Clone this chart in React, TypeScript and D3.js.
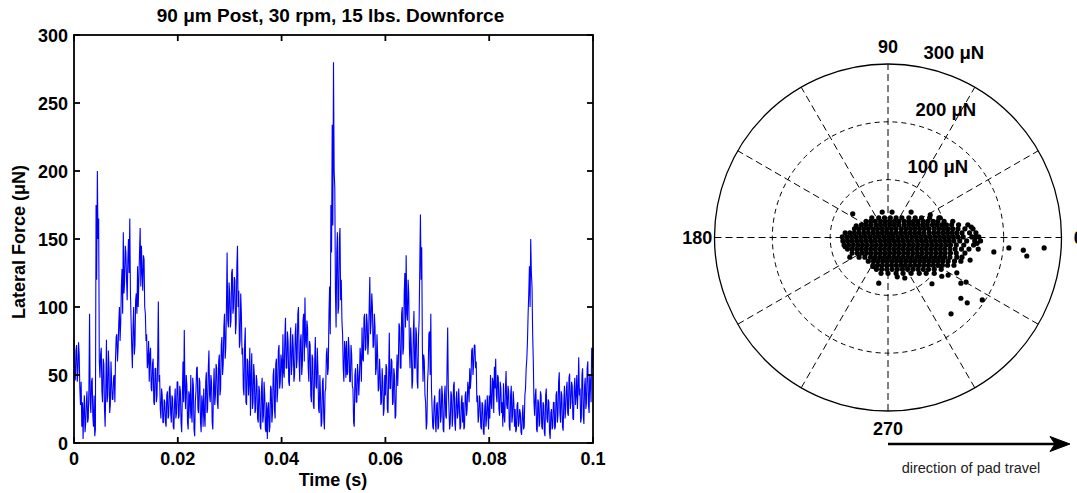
import * as React from "react";
import * as d3 from "d3";

// lateral force trace, one sample every 0.125 ms (μN)
const forceValues = [
  76, 50, 46, 68, 72, 45, 52, 74, 65, 40, 28, 45, 12, 30, 3, 25, 35, 8, 14, 30,
  38, 15, 18, 40, 95, 30, 22, 45, 48, 20, 12, 35, 5, 10, 175, 120, 200, 150, 165, 60,
  48, 65, 70, 38, 30, 62, 58, 25, 12, 40, 76, 30, 35, 68, 55, 22, 28, 60, 45, 32,
  32, 48, 50, 30, 62, 78, 80, 60, 70, 88, 100, 75, 88, 115, 128, 95, 155, 110, 118, 145,
  140, 120, 105, 135, 150, 125, 165, 110, 90, 70, 55, 85, 100, 65, 72, 105, 110, 95, 130, 100,
  120, 140, 158, 115, 145, 125, 112, 138, 135, 100, 95, 75, 80, 55, 60, 75, 45, 65, 70, 40,
  38, 58, 62, 30, 28, 55, 55, 30, 35, 62, 104, 45, 50, 25, 18, 40, 35, 15, 15, 32,
  30, 15, 12, 35, 38, 18, 20, 40, 42, 22, 15, 35, 33, 12, 10, 30, 40, 18, 22, 45,
  45, 18, 20, 42, 38, 15, 8, 35, 60, 30, 83, 40, 25, 50, 42, 15, 10, 38, 35, 18,
  50, 22, 15, 48, 42, 10, 5, 30, 38, 55, 56, 25, 22, 48, 45, 15, 8, 35, 30, 12,
  40, 20, 12, 45, 52, 22, 25, 55, 68, 35, 30, 50, 45, 15, 10, 40, 55, 28, 35, 58,
  55, 30, 25, 60, 65, 35, 40, 72, 78, 50, 58, 85, 95, 62, 70, 100, 140, 90, 85, 118,
  110, 85, 90, 125, 128, 95, 100, 122, 120, 80, 88, 130, 145, 100, 112, 70, 75, 110, 95, 65,
  70, 40, 35, 72, 85, 30, 28, 62, 60, 35, 45, 70, 20, 48, 66, 25, 30, 58, 50, 22,
  25, 50, 45, 18, 15, 42, 38, 12, 10, 40, 48, 15, 20, 45, 35, 10, 8, 30, 3, 25,
  30, 8, 12, 42, 40, 15, 22, 50, 55, 25, 18, 58, 62, 30, 38, 68, 72, 40, 45, 65,
  60, 40, 80, 52, 48, 78, 92, 55, 55, 82, 75, 45, 42, 70, 85, 50, 58, 80, 70, 45,
  50, 80, 88, 55, 62, 95, 100, 60, 45, 75, 80, 50, 58, 90, 95, 60, 107, 75, 70, 90,
  85, 55, 45, 75, 72, 35, 30, 65, 62, 28, 25, 60, 78, 42, 40, 70, 55, 25, 22, 50,
  35, 12, 15, 45, 48, 18, 10, 38, 40, 65, 70, 50, 55, 95, 115, 80, 175, 140, 234, 160,
  280, 200, 188, 110, 85, 140, 155, 95, 100, 150, 158, 105, 120, 90, 80, 55, 45, 75, 70, 48,
  75, 50, 52, 78, 70, 45, 45, 72, 65, 42, 40, 15, 12, 50, 55, 30, 30, 58, 50, 35,
  48, 70, 62, 45, 85, 62, 60, 92, 95, 68, 70, 95, 88, 65, 75, 100, 122, 80, 90, 110,
  100, 70, 72, 95, 85, 50, 55, 80, 65, 38, 40, 62, 50, 28, 30, 55, 45, 20, 25, 50,
  35, 58, 55, 25, 22, 50, 81, 40, 40, 62, 60, 28, 30, 55, 50, 18, 20, 48, 65, 42,
  60, 88, 85, 55, 55, 95, 100, 65, 70, 110, 125, 85, 138, 95, 90, 120, 110, 70, 55, 85,
  70, 40, 45, 80, 97, 55, 55, 85, 80, 45, 40, 78, 90, 130, 168, 120, 144, 70, 45, 65,
  60, 35, 30, 10, 15, 45, 55, 80, 82, 50, 95, 40, 25, 12, 10, 30, 35, 15, 8, 28,
  30, 10, 12, 38, 40, 15, 20, 42, 35, 10, 8, 35, 42, 20, 18, 55, 85, 40, 25, 10,
  15, 38, 35, 12, 20, 42, 45, 15, 9, 32, 38, 18, 22, 40, 28, 10, 12, 30, 35, 15,
  30, 10, 12, 35, 38, 20, 25, 45, 40, 30, 55, 40, 48, 68, 70, 50, 58, 72, 72, 55,
  60, 30, 35, 15, 20, 35, 30, 12, 10, 30, 28, 8, 6, 25, 32, 12, 18, 35, 25, 10,
  35, 18, 50, 30, 25, 48, 45, 22, 56, 40, 62, 35, 30, 50, 48, 25, 20, 45, 40, 22,
  30, 12, 44, 20, 15, 40, 53, 28, 25, 42, 38, 12, 9, 35, 42, 15, 20, 38, 30, 12,
  25, 8, 10, 28, 30, 12, 15, 25, 22, 8, 6, 20, 28, 10, 12, 35, 40, 55, 62, 75,
  95, 110, 130, 100, 150, 125, 115, 80, 60, 30, 20, 35, 40, 10, 8, 32, 30, 12, 15, 38,
  35, 12, 10, 30, 28, 8, 5, 35, 40, 18, 15, 32, 30, 8, 3, 22, 25, 10, 12, 30,
  30, 10, 12, 35, 38, 15, 20, 45, 52, 22, 15, 38, 35, 12, 9, 30, 42, 18, 25, 40,
  45, 22, 20, 48, 51, 25, 30, 45, 42, 18, 17, 40, 48, 28, 35, 50, 25, 40, 63, 35,
  40, 15, 18, 50, 55, 20, 14, 42, 48, 25, 30, 55, 60, 28, 22, 50, 45, 30, 70, 55,
  70,
];
const sampleStep = 0.000125;

const timeTicks = [0, 0.02, 0.04, 0.06, 0.08, 0.1];
const timeTickLabels = ["0", "0.02", "0.04", "0.06", "0.08", "0.1"];
const forceTicks = [0, 50, 100, 150, 200, 250, 300];

const ringValues = [100, 200, 300];
const ringLabels = ["100 μN", "200 μN", "300 μN"];
const spokeAngles = [0, 30, 60, 90, 120, 150];
const angleLabelDegrees = [0, 90, 180, 270];
const angleLabelTexts = ["0", "90", "180", "270"];

// force vectors in the pad plane: each row is [y component, x components...] (μN)
const clusterRows: [number, number[]][] = [
  [34, [-28, -16, -6, 4, 14, 24, 36, 47, 58, 72, 88]],
  [28, [-38, -30, -22, -13, -5, 3, 11, 19, 28, 36, 44, 52, 61, 69, 78, 86, 97, 112]],
  [22, [-46, -38, -30, -21, -13, -5, 3, 11, 19, 28, 36, 44, 52, 60, 68, 77, 85, 93, 101, 110, 122, 138]],
  [15, [-58, -50, -42, -34, -26, -18, -10, -2, 6, 14, 23, 31, 39, 47, 55, 63, 71, 80, 88, 96, 104, 112, 121, 133, 147]],
  [8, [-74, -66, -58, -50, -42, -34, -26, -18, -10, -2, 6, 14, 22, 30, 38, 46, 54, 62, 71, 79, 87, 95, 103, 111, 119, 128, 141, 152]],
  [1, [-79, -71, -63, -55, -47, -39, -31, -23, -15, -7, 1, 9, 17, 25, 33, 41, 49, 57, 65, 73, 81, 89, 97, 105, 113, 121, 130, 145, 157]],
  [-6, [-78, -70, -62, -54, -46, -38, -30, -22, -14, -6, 2, 10, 18, 26, 34, 42, 50, 58, 66, 74, 82, 90, 98, 106, 114, 124, 136, 150, 160]],
  [-13, [-76, -68, -60, -52, -44, -36, -28, -20, -12, -4, 4, 12, 20, 28, 36, 44, 52, 60, 68, 76, 84, 92, 100, 108, 118, 131, 148]],
  [-20, [-70, -62, -54, -46, -38, -30, -22, -14, -6, 2, 10, 18, 26, 34, 42, 50, 58, 66, 74, 82, 90, 98, 107, 116, 127, 140, 156]],
  [-27, [-62, -53, -45, -37, -29, -21, -13, -5, 3, 11, 19, 27, 35, 43, 51, 59, 67, 75, 83, 91, 99, 108, 118, 133]],
  [-34, [-50, -40, -30, -22, -14, -6, 2, 10, 18, 26, 34, 42, 50, 58, 66, 74, 82, 90, 98, 107, 119, 128]],
  [-41, [-34, -25, -17, -9, -1, 7, 15, 23, 31, 39, 47, 55, 63, 71, 79, 87, 95, 104, 115, 126]],
  [-48, [-26, -18, -10, -2, 6, 14, 22, 30, 38, 46, 54, 62, 70, 78, 86, 94, 103, 114]],
  [-55, [-20, -11, -2, 7, 16, 25, 34, 43, 52, 61, 70, 80, 92]],
  [-62, [-12, 0, 14, 26, 40, 54, 66, 80]],
];
const outlierX = [183, 209, 234, 240, 270, -16, 76, 126, 135, 126, 137, 163, 109, -61, -10, 7, 40, -55, 144, 151, 154, 142, -74, -66, 93, 119, 16, 29, 104, 73, 90, -26];
const outlierY = [-25, -18, -22, -32, -18, -79, -80, -79, -77, -105, -113, -108, -132, 41, 44, 44, 44, 20, 18, 1, -10, -39, -16, -34, -67, -61, -68, -70, -65, 39, 34, -50];

const FONT = "'Liberation Sans', Arial, Helvetica, sans-serif";

const TimePlot = () => {
  const left = 74, right = 593, top = 35, bottom = 443;
  const x = d3.scaleLinear().domain([0, 0.1]).range([left, right]);
  const y = d3.scaleLinear().domain([0, 300]).range([bottom, top]);
  const line = d3
    .line<number>()
    .x((_, i) => x(i * sampleStep))
    .y((d) => y(d));

  return (
    <g fontFamily={FONT} fontWeight="bold" fill="#000">
      <text x={(left + right) / 2 - 3} y={22} textAnchor="middle" fontSize={19}>
        90 μm Post, 30 rpm, 15 lbs. Downforce
      </text>
      <path d={line(forceValues) || ""} fill="none" stroke="#0000ff" strokeWidth={1.1} strokeLinejoin="bevel" />
      <rect x={left} y={top} width={right - left} height={bottom - top} fill="none" stroke="#000" strokeWidth={1.8} />
      {timeTicks.map((t, i) => (
        <g key={"xt" + i}>
          <line x1={x(t)} x2={x(t)} y1={bottom} y2={bottom - 6} stroke="#000" strokeWidth={1.8} />
          <line x1={x(t)} x2={x(t)} y1={top} y2={top + 6} stroke="#000" strokeWidth={1.8} />
          <text x={x(t)} y={465} textAnchor="middle" fontSize={18}>
            {timeTickLabels[i]}
          </text>
        </g>
      ))}
      {forceTicks.map((v, i) => (
        <g key={"yt" + i}>
          <line x1={left} x2={left + 6} y1={y(v)} y2={y(v)} stroke="#000" strokeWidth={1.8} />
          <line x1={right} x2={right - 6} y1={y(v)} y2={y(v)} stroke="#000" strokeWidth={1.8} />
          <text x={68} y={y(v) + 6.5} textAnchor="end" fontSize={18}>
            {v}
          </text>
        </g>
      ))}
      <text x={333} y={486} textAnchor="middle" fontSize={18}>
        Time (s)
      </text>
      <text transform="translate(25,242) rotate(-90)" textAnchor="middle" fontSize={18}>
        Lateral Force (μN)
      </text>
    </g>
  );
};

const PolarPlot = () => {
  const cx = 888, cy = 237.5;
  const r = d3.scaleLinear().domain([0, 300]).range([0, 173.5]);
  const R = r(300);
  const rad = (deg: number) => (deg * Math.PI) / 180;

  const points: [number, number][] = [];
  clusterRows.forEach(([fy, xs]) => xs.forEach((fx) => points.push([fx, fy])));
  outlierX.forEach((fx, i) => points.push([fx, outlierY[i]]));

  return (
    <g fontFamily={FONT}>
      {spokeAngles.map((a) => (
        <line
          key={"sp" + a}
          x1={cx - R * Math.cos(rad(a))}
          y1={cy + R * Math.sin(rad(a))}
          x2={cx + R * Math.cos(rad(a))}
          y2={cy - R * Math.sin(rad(a))}
          stroke="#000"
          strokeWidth={1}
          strokeDasharray="7,4"
        />
      ))}
      {ringValues.map((v) => (
        <circle
          key={"ring" + v}
          cx={cx}
          cy={cy}
          r={r(v)}
          fill="none"
          stroke="#000"
          strokeWidth={v === 300 ? 1.3 : 1}
          strokeDasharray={v === 300 ? undefined : "5,4"}
        />
      ))}
      {points.map(([fx, fy], i) => (
        <circle key={"p" + i} cx={cx + r(fx)} cy={cy - r(fy)} r={2.6} fill="#000" />
      ))}
      {ringValues.map((v, i) => (
        <text
          key={"rl" + v}
          x={cx + r(v + 5) * Math.cos(rad(82)) + 11}
          y={cy - r(v + 5) * Math.sin(rad(82)) - 4}
          fontSize={18.5}
          fontWeight="bold"
          fill="#000"
        >
          {ringLabels[i]}
        </text>
      ))}
      {angleLabelDegrees.map((a, i) => (
        <text
          key={"al" + a}
          x={cx + R * 1.1 * Math.cos(rad(a))}
          y={cy - R * 1.1 * Math.sin(rad(a)) + 6.5}
          textAnchor="middle"
          fontSize={18}
          fontWeight="bold"
          fill="#000"
        >
          {angleLabelTexts[i]}
        </text>
      ))}
      <line x1={cx} x2={1056} y1={444} y2={444} stroke="#000" strokeWidth={2.6} />
      <path d="M1070,444 L1050,436.5 L1055,444 L1050,451.5 Z" fill="#000" stroke="#000" strokeWidth={1} strokeLinejoin="miter" />
      <text x={971} y={473} textAnchor="middle" fontSize={14.5} fill="#222">
        direction of pad travel
      </text>
    </g>
  );
};

export default function App() {
  return (
    <svg
      width={1077}
      height={493}
      viewBox="0 0 1077 493"
      style={{ position: "absolute", left: 0, top: 0, background: "#fff" }}
    >
      <rect width={1077} height={493} fill="#fff" />
      <TimePlot />
      <PolarPlot />
    </svg>
  );
}
